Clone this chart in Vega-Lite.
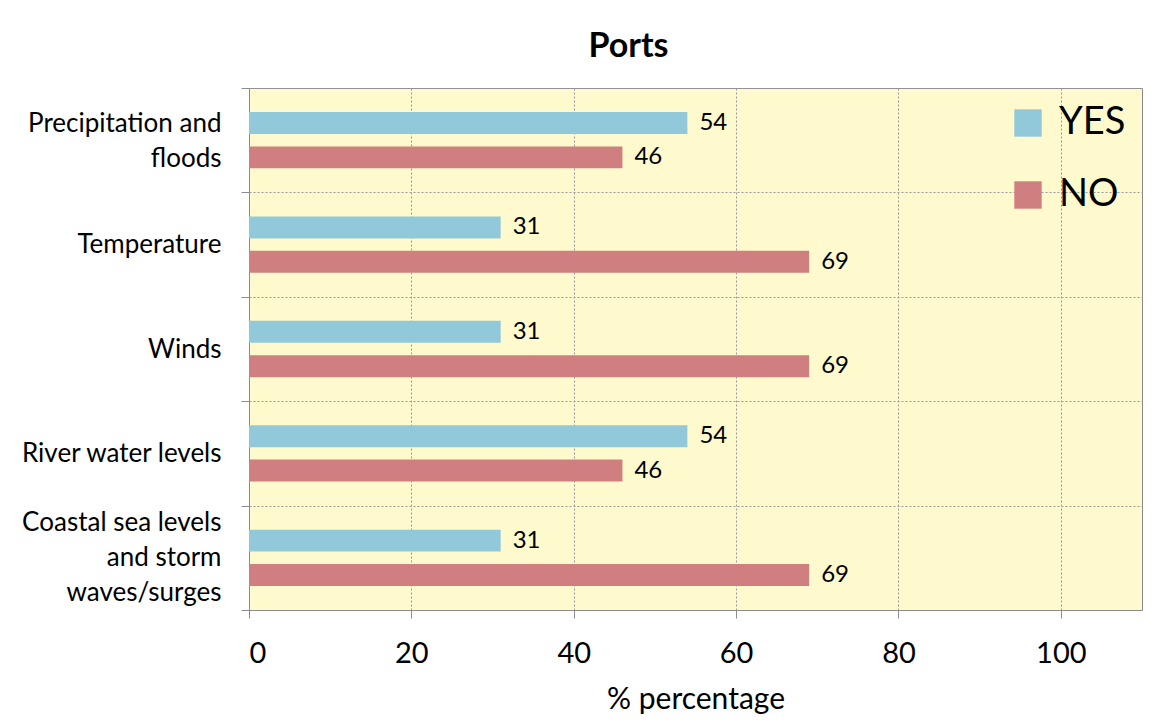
{
  "$schema": "https://vega.github.io/schema/vega-lite/v6.json",
  "autosize": {"type": "none"},
  "width": 893,
  "height": 522,
  "padding": {"left": 249, "top": 88, "right": 31, "bottom": 118},
  "background": "white",
  "title": {"text": "Ports", "font": "Lato", "fontSize": 34, "fontWeight": "bold", "color": "#000000", "anchor": "middle", "dx": -67, "offset": 11},
  "config": {"view": {"fill": "#FEFACD", "stroke": "#8c8c8c"}, "font": "Lato"},
  "data": {"values": [
    {"category": "Precipitation and|floods", "answer": "YES", "pct": 54},
    {"category": "Precipitation and|floods", "answer": "NO", "pct": 46},
    {"category": "Temperature", "answer": "YES", "pct": 31},
    {"category": "Temperature", "answer": "NO", "pct": 69},
    {"category": "Winds", "answer": "YES", "pct": 31},
    {"category": "Winds", "answer": "NO", "pct": 69},
    {"category": "River water levels", "answer": "YES", "pct": 54},
    {"category": "River water levels", "answer": "NO", "pct": 46},
    {"category": "Coastal sea levels|and storm|waves/surges", "answer": "YES", "pct": 31},
    {"category": "Coastal sea levels|and storm|waves/surges", "answer": "NO", "pct": 69}
  ]},
  "encoding": {
    "y": {
      "field": "category", "type": "nominal",
      "sort": ["Precipitation and|floods", "Temperature", "Winds", "River water levels", "Coastal sea levels|and storm|waves/surges"],
      "scale": {"paddingInner": 0, "paddingOuter": 0},
      "axis": {
        "title": null,
        "labelExpr": "split(datum.label, '|')",
        "labelFont": "Lato",
        "labelFontSize": 26,
        "labelColor": "#000000",
        "labelLineHeight": 35,
        "labelLimit": 400,
        "labelAlign": "right",
        "labelPadding": 20,
        "labelOffset": {"condition": [
          {"test": "length(split(datum.value, '|')) == 3", "value": -35},
          {"test": "length(split(datum.value, '|')) == 2", "value": -17}
        ], "value": 0},
        "tickBand": "extent",
        "tickSize": 8,
        "tickColor": "#8c8c8c",
        "domainColor": "#8c8c8c",
        "grid": true,
        "gridColor": "#9a9a9a",
        "gridDash": [2, 2],
        "gridWidth": 1
      }
    },
    "yOffset": {"field": "answer", "type": "nominal", "sort": ["YES", "NO"], "scale": {"paddingInner": 0.36, "paddingOuter": 0.7}},
    "x": {
      "field": "pct", "type": "quantitative",
      "scale": {"domain": [0, 110], "nice": false},
      "axis": {
        "title": "% percentage",
        "titleFont": "Lato",
        "titleFontSize": 30,
        "titleFontWeight": "normal",
        "titleColor": "#000000",
        "titlePadding": 16,
        "values": [0, 20, 40, 60, 80, 100],
        "labelFont": "Lato",
        "labelFontSize": 29,
        "labelColor": "#000000",
        "labelPadding": 21,
        "tickSize": 8,
        "tickColor": "#8c8c8c",
        "domainColor": "#8c8c8c",
        "grid": true,
        "gridColor": "#9a9a9a",
        "gridDash": [2, 2]
      }
    }
  },
  "layer": [
    {
      "mark": {"type": "bar"},
      "encoding": {
        "color": {
          "field": "answer", "type": "nominal",
          "scale": {"domain": ["YES", "NO"], "range": ["#92C9DA", "#CF7F7F"]},
          "legend": {
            "title": null,
            "orient": "top-right",
            "offset": 16,
            "symbolType": "square",
            "symbolSize": 750,
            "symbolOpacity": 1,
            "symbolStrokeWidth": 0,
            "labelFont": "Lato",
            "labelFontSize": 38,
            "labelColor": "#000000",
            "labelOffset": 12,
            "rowPadding": 34
          }
        }
      }
    },
    {
      "mark": {"type": "text", "align": "left", "baseline": "middle", "dx": 12, "fontSize": 24, "font": "Lato", "color": "#000000"},
      "encoding": {"text": {"field": "pct", "type": "quantitative"}}
    }
  ]
}
